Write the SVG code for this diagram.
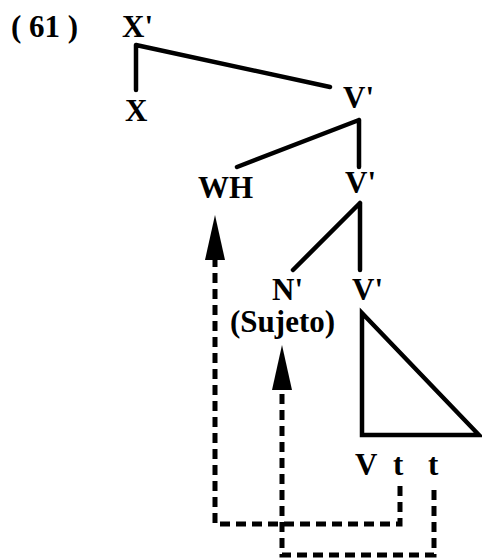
<svg xmlns="http://www.w3.org/2000/svg" width="482" height="558" viewBox="0 0 482 558">
<style>
text{font-family:"Liberation Serif","Times New Roman",serif;font-weight:bold;font-size:31px;fill:#000}
.e{stroke:#000;stroke-width:4.5;stroke-linecap:round;fill:none}
.tri{stroke:#000;stroke-width:4.5;stroke-linejoin:miter;fill:none}
.d{stroke:#000;stroke-width:5;stroke-dasharray:10 6;fill:none}
</style>
<defs>
<marker id="ah" viewBox="0 0 45 20" refX="0" refY="10" markerWidth="45" markerHeight="20" markerUnits="userSpaceOnUse" orient="auto">
<path d="M0,0 L45,10 L0,20 Z" fill="#000"/>
</marker>
</defs>
<rect width="482" height="558" fill="#fff"/>
<text x="11" y="37">( 61 )</text>
<g id="connectors">
<path class="e" d="M136,45 L136,90 M136,45 L330,87"/>
<path class="e" d="M359,120 L237,167 M359,120 L359,167"/>
<path class="e" d="M360,203 L293,270 M360,203 L360,270"/>
<path class="d" d="M400,486 L400,524 L215,524 L215,260" marker-end="url(#ah)"/>
<path class="d" d="M434,490 L434,555 L282,555 L282,390" marker-end="url(#ah)"/>
</g>
<g id="n-xbar"><text x="122" y="37">X'</text></g>
<g id="n-x"><text x="125" y="121">X</text></g>
<g id="n-vbar1"><text x="343" y="108">V'</text></g>
<g id="n-wh"><text x="198" y="198">WH</text></g>
<g id="n-vbar2"><text x="345" y="193">V'</text></g>
<g id="n-nbar"><text x="272" y="300">N'</text><text x="230" y="332">(Sujeto)</text></g>
<g id="n-vbar3"><text x="352" y="300">V'</text></g>
<g id="n-triangle"><path class="tri" d="M362,313 L362,435 L479,435 Z"/></g>
<g id="n-v"><text x="355" y="475">V</text></g>
<g id="n-t1"><text x="393" y="475">t</text></g>
<g id="n-t2"><text x="428" y="475">t</text></g>
</svg>
